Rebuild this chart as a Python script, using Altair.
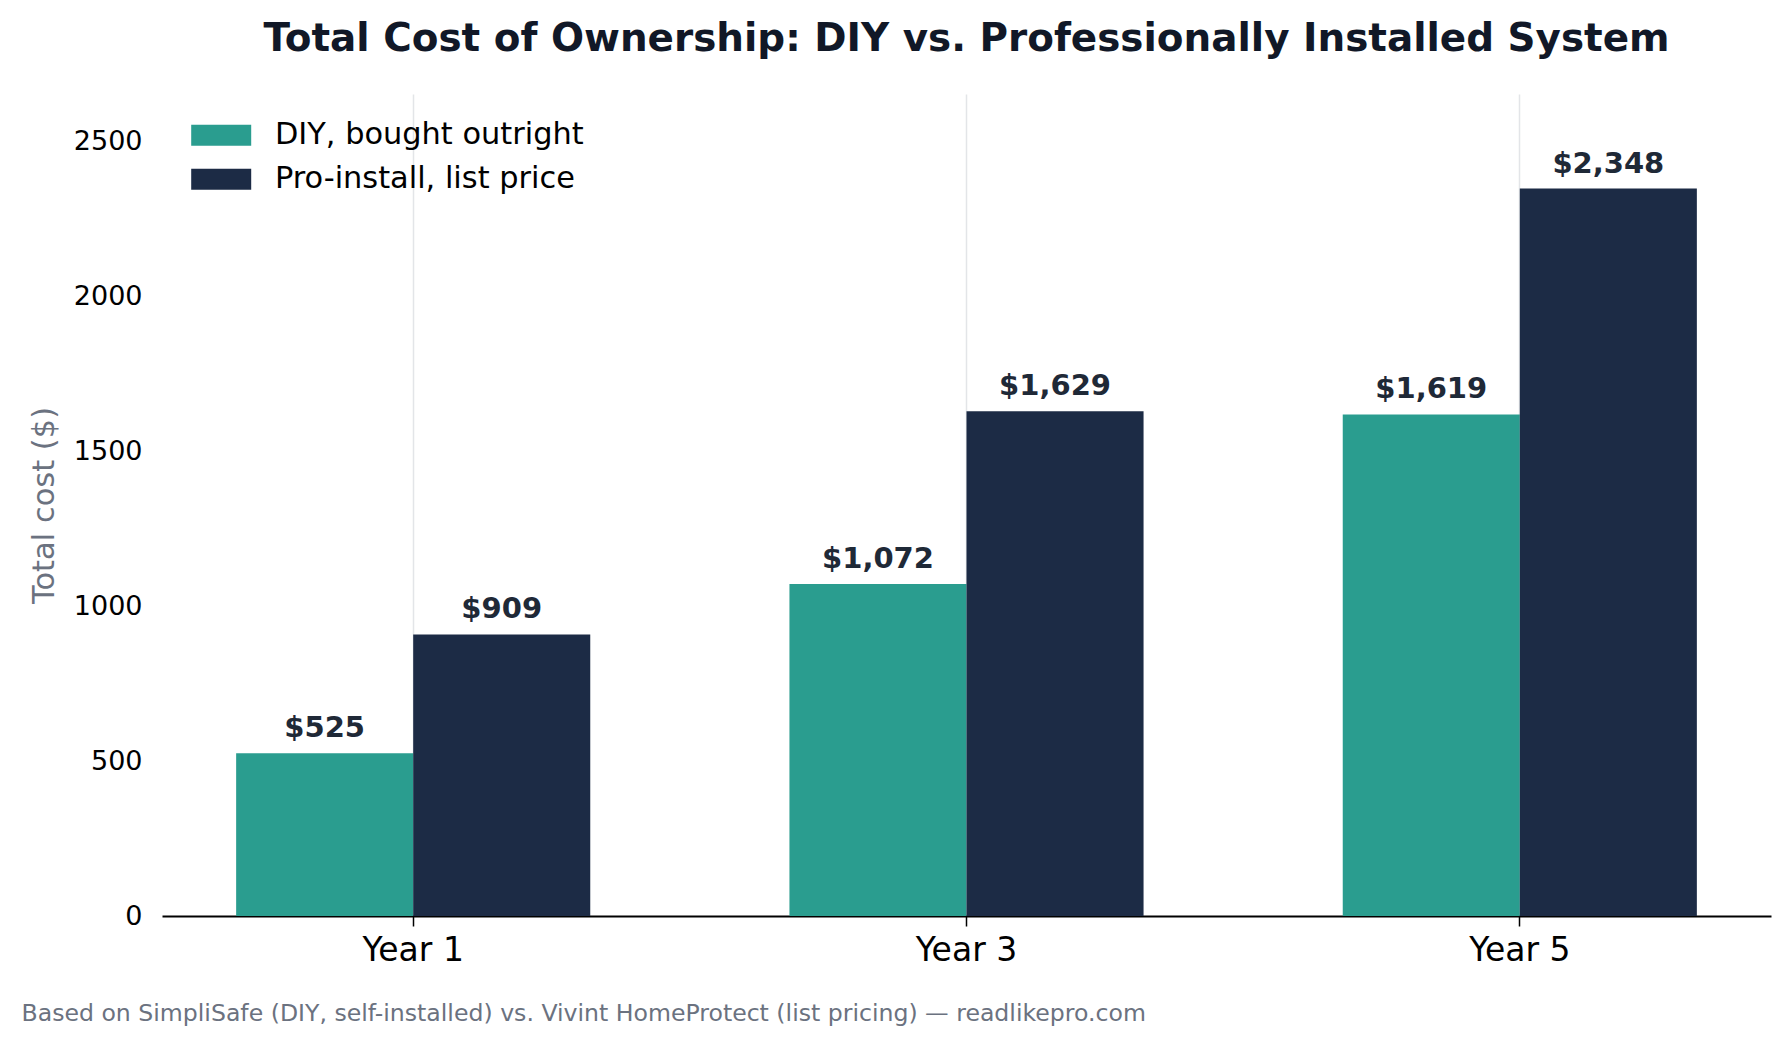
import altair as alt
import pandas as pd

# Cumulative cost at each milestone, per ownership option
years = ["Year 1", "Year 3", "Year 5"]
series = ["DIY, bought outright", "Pro-install, list price"]
diy_cost = [525, 1072, 1619]
pro_cost = [909, 1629, 2348]
colors = ["#2a9d8f", "#1c2b45"]
y_ticks = [0, 500, 1000, 1500, 2000, 2500]

rows = []
for yr, d, p in zip(years, diy_cost, pro_cost):
    rows.append({"year": yr, "series": series[0], "cost": d})
    rows.append({"year": yr, "series": series[1], "cost": p})
df = pd.DataFrame(rows)
df["label"] = df["cost"].map(lambda v: f"${v:,}")

FONT = "DejaVu Sans"
W, H = 1609, 822
y_max = max(pro_cost) * 1.13

x_enc = alt.X(
    "year:N",
    sort=years,
    scale=alt.Scale(paddingInner=0.36, paddingOuter=0.134),
    axis=alt.Axis(
        title="Based on SimpliSafe (DIY, self-installed) vs. Vivint HomeProtect (list pricing) — readlikepro.com",
        labelAngle=0,
        grid=True,
        gridColor="#e3e5e8",
        gridWidth=1.5,
        domainColor="black",
        domainWidth=1.8,
        tickColor="black",
        tickWidth=1.5,
        tickSize=10,
        labelFont=FONT,
        labelFontSize=33,
        labelColor="black",
        labelPadding=8,
        titleFont=FONT,
        titleFontSize=23.6,
        titleFontWeight="normal",
        titleColor="#6b7280",
        titleAlign="left",
        titleBaseline="alphabetic",
        titleX=-141,
        titleY=104,
    ),
)

y_enc = alt.Y(
    "cost:Q",
    scale=alt.Scale(domain=[0, y_max], nice=False, zero=True),
    axis=alt.Axis(
        title="Total cost ($)",
        values=y_ticks,
        format="d",
        grid=False,
        domain=False,
        ticks=False,
        tickSize=0,
        labelFont=FONT,
        labelFontSize=27,
        labelColor="black",
        labelPadding=20,
        titleFont=FONT,
        titleFontSize=30.5,
        titleFontWeight="normal",
        titleColor="#6b7280",
        titleAngle=270,
        titleAlign="center",
        titleBaseline="middle",
        titleX=-118,
        titleY=H / 2,
    ),
)

x_off = alt.XOffset(
    "series:N",
    sort=series,
    scale=alt.Scale(domain=series, paddingInner=0, paddingOuter=0),
)

color_enc = alt.Color(
    "series:N",
    scale=alt.Scale(domain=series, range=colors),
    legend=alt.Legend(
        title=None,
        orient="none",
        legendX=44,
        legendY=26,
        padding=0,
        symbolType="M-2.5,-0.875L2.5,-0.875L2.5,0.875L-2.5,0.875Z",
        symbolSize=576,
        symbolStrokeWidth=0,
        labelFont=FONT,
        labelFontSize=30.4,
        labelColor="black",
        labelLimit=0,
        labelOffset=38.5,
        rowPadding=13,
    ),
)

base = alt.Chart(df)

bars = base.mark_bar().encode(x=x_enc, xOffset=x_off, y=y_enc, color=color_enc)

labels = base.mark_text(
    dy=-16,
    baseline="alphabetic",
    font=FONT,
    fontSize=29,
    fontWeight="bold",
    color="#1f2937",
).encode(x=x_enc, xOffset=x_off, y=y_enc, text="label:N")

chart = (
    alt.layer(bars, labels)
    .properties(
        width=W,
        height=H,
        title=alt.TitleParams(
            "Total Cost of Ownership: DIY vs. Professionally Installed System",
            font=FONT,
            fontSize=38.9,
            fontWeight="bold",
            color="#111827",
            anchor="middle",
            frame="group",
            offset=35,
        ),
        padding={"left": 162, "top": 94, "right": 20, "bottom": 128},
        autosize=alt.AutoSizeParams(type="none"),
        background="white",
    )
    .configure_view(stroke=None)
)

chart.save("out.html", embed_options={"renderer": "svg", "actions": False})
